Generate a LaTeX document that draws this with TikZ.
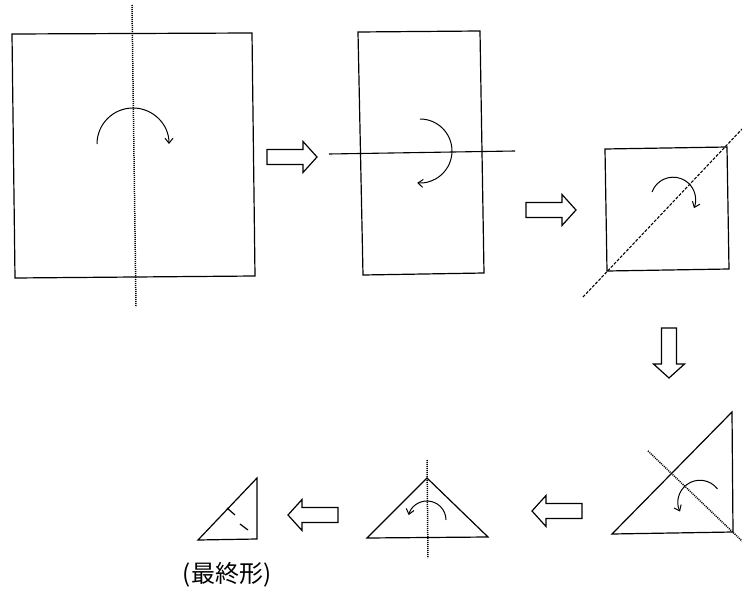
\documentclass[tikz,border=0pt]{standalone}
\usepackage{fontspec}
\newfontfamily\cjk{Noto Sans CJK JP}
\usetikzlibrary{arrows.meta}
\tikzset{
  paper/.style={line width=1.2pt, line join=miter},
  foldline/.style={line width=1.5pt, dash pattern=on 1pt off 1pt},
  turn/.style={line width=1pt, -{Straight Barb[length=5pt,width=8pt]}},
  blockarrow/.pic={\draw[line width=1.2pt, line join=miter]
     (0,-7.5) -- (36,-7.5) -- (36,-15.5) -- (50,0) -- (36,15.5) -- (36,7.5) -- (0,7.5) -- cycle;}
}
\begin{document}
\begin{tikzpicture}[x=1pt,y=-1pt]
\useasboundingbox (0,0) rectangle (742,594);
% step 1: square
\draw[paper] (12,34) -- (252,33) -- (255,276) -- (15,278) -- cycle;
\draw[foldline] (132,5) -- (136,307);
\draw[turn] (97,144) arc[start angle=180, end angle=0, radius=36pt];
\pic at (267,157) {blockarrow};
% step 2: rectangle
\draw[paper] (358,32) -- (480,31) -- (484,273) -- (363,275) -- cycle;
\draw[line width=1.1pt] (329,154) -- (515,151);
\draw[turn] (420,119) arc[start angle=90, end angle=-95, radius=32pt];
\pic at (526,210) {blockarrow};
% step 3: square with diagonal
\draw[paper] (605,149) -- (727,147) -- (729,269) -- (607,271) -- cycle;
\draw[line width=1.1pt, dash pattern=on 3pt off 1.5pt] (583,297) -- (743,128);
\draw[turn] (652,192) arc[start angle=160, end angle=-22, radius=22.5pt];
\pic[rotate=-90] at (669,328) {blockarrow};
% step 4: big triangle
\draw[paper] (612,534) -- (732,412) -- (733,532) -- cycle;
\draw[foldline] (648,451) -- (742,541);
\draw[turn] (717.5,489) arc[start angle=37, end angle=205, radius=22pt];
\pic[rotate=180] at (582,511) {blockarrow};
% step 5: triangle with vertical fold
\draw[paper] (367,538) -- (427,478) -- (488,537) -- cycle;
\draw[foldline] (427,460) -- (428,558);
\draw[turn] (446,520) arc[start angle=0, end angle=165, radius=19pt];
\pic[rotate=180] at (338,515) {blockarrow};
% final shape
\draw[paper] (198,540) -- (257,478) -- (257,539) -- cycle;
\draw[line width=1.2pt] (227,508) -- (235,515);
\draw[line width=1.2pt] (240,524) -- (248,530);
\node[font=\cjk\fontsize{24}{24}\selectfont, inner sep=0pt] (final) at (227,575) {(最終形)};
\end{tikzpicture}
\end{document}
